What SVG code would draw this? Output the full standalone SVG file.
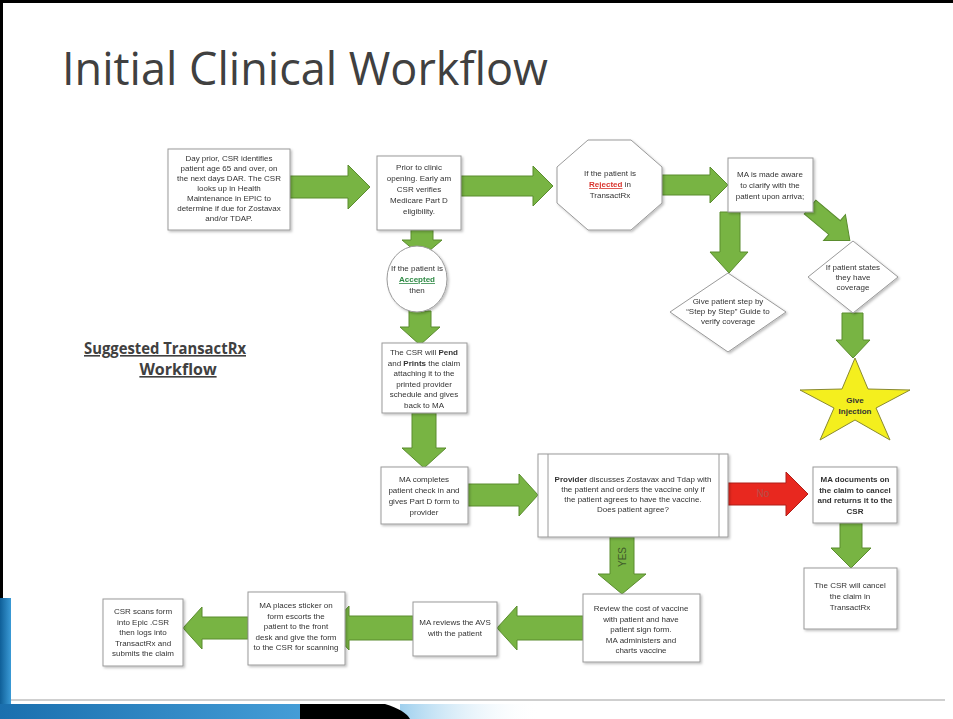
<svg xmlns="http://www.w3.org/2000/svg" width="953" height="719" viewBox="0 0 953 719">
<style>
.bx{fill:#fff;stroke:#9a9a9a;stroke-width:1}
.t{font-family:"Liberation Sans",Arial,sans-serif;font-size:8px;fill:#333;text-anchor:middle}
.b{font-weight:bold}
.ga{fill:#78b443;stroke:#5a8c2e;stroke-width:1}
.ra{fill:#e8281f;stroke:#b01e18;stroke-width:1}
</style>
<defs>
<filter id="sh" x="-10%" y="-10%" width="130%" height="130%">
<feDropShadow dx="1.5" dy="1.5" stdDeviation="1" flood-color="#000" flood-opacity="0.25"/>
</filter>
<linearGradient id="blu" x1="0" y1="0" x2="1" y2="0">
<stop offset="0" stop-color="#1a6fae"/><stop offset="1" stop-color="#4aa3dc"/>
</linearGradient>
<linearGradient id="lblu" x1="0" y1="0" x2="1" y2="0">
<stop offset="0" stop-color="#9fd0ee"/><stop offset="1" stop-color="#ffffff" stop-opacity="0"/>
</linearGradient>
<linearGradient id="vblu" x1="0" y1="0" x2="1" y2="0">
<stop offset="0" stop-color="#0f5f98"/><stop offset="1" stop-color="#3a9ad6"/>
</linearGradient>
</defs>
<rect width="953" height="719" fill="#fff"/>
<!-- slide frame -->
<rect x="0" y="0" width="953" height="3" fill="#000"/>
<rect x="0" y="0" width="3" height="600" fill="#000"/>
<rect x="0" y="598" width="11" height="121" fill="url(#vblu)"/>
<line x1="11" y1="700" x2="945" y2="700" stroke="#cfcfcf" stroke-width="2"/>
<rect x="0" y="704" width="340" height="15" fill="url(#blu)"/>
<path d="M400,704 L540,704 L540,719 L400,719 Z" fill="url(#lblu)"/>
<path d="M300,704 L385,704 Q405,710 410,719 L300,719 Z" fill="#000"/>

<text x="62" y="85" font-family="Open Sans, Liberation Sans, sans-serif" font-size="46" fill="#404040" textLength="486" lengthAdjust="spacingAndGlyphs">Initial Clinical Workflow</text>

<g id="subtitle" font-family="Open Sans, Liberation Sans, sans-serif" font-size="16" font-weight="bold" fill="#404040" text-anchor="middle" text-decoration="underline">
<text x="165" y="354" textLength="162" lengthAdjust="spacingAndGlyphs">Suggested TransactRx</text>
<text x="178" y="375">Workflow</text>
</g>

<g id="connectors">
<polygon class="ga" points="290,176 348,176 348,165 370,187 348,209 348,198 290,198"/>
<polygon class="ga" points="461,176 533,176 533,166 553,186 533,206 533,196 461,196"/>
<polygon class="ga" points="662,175 710,175 710,167 728,185 710,203 710,195 662,195"/>
<polygon class="ga" points="720,212 740,212 740,252 748,252 729,273 710,252 720,252"/>
<g transform="translate(810,207) rotate(40)">
<polygon class="ga" points="0,-9 32,-9 32,-17 52,0 32,17 32,9 0,9"/>
</g>
<polygon class="ga" points="842,313 863,313 863,340 870,340 853,358 836,340 842,340"/>
<polygon class="ga" points="411,230 433,230 433,240 442,240 422,257 402,240 411,240"/>
<polygon class="ga" points="409,311 431,311 431,327 440,327 420,345 400,327 409,327"/>
<polygon class="ga" points="412,413 436,413 436,448 446,448 424,468 402,448 412,448"/>
<polygon class="ga" points="468,484 519,484 519,474 538,495 519,516 519,506 468,506"/>
<polygon class="ra" points="728,483 786,483 786,472 808,494 786,516 786,505 728,505"/>
<polygon class="ga" points="840,523 862,523 862,548 871,548 851,568 831,548 840,548"/>
<polygon class="ga" points="610,537 634,537 634,574 646,574 622,594 598,574 610,574"/>
<polygon class="ga" points="583,616 517,616 517,606 497,628 517,650 517,640 583,640"/>
<polygon class="ga" points="413,616 349,616 349,606 329,628 349,650 349,640 413,640"/>
<polygon class="ga" points="248,617 202,617 202,607 183,628 202,649 202,639 248,639"/>
<text x="763" y="497" font-family="Liberation Sans, Arial, sans-serif" font-size="10" fill="#b4504a" text-anchor="middle">No</text>
<text transform="translate(626,557) rotate(-90)" font-family="Liberation Sans, Arial, sans-serif" font-size="10" fill="#3f5a2a" text-anchor="middle">YES</text>
</g>

<g id="n1" filter="url(#sh)">
<rect class="bx" x="168" y="149" width="122" height="81"/>
<text class="t"><tspan x="229" y="161">Day prior, CSR identifies</tspan><tspan x="229" y="171">patient age 65 and over, on</tspan><tspan x="229" y="181">the next days DAR. The CSR</tspan><tspan x="229" y="191">looks up in Health</tspan><tspan x="229" y="201">Maintenance in EPIC to</tspan><tspan x="229" y="211">determine if due for Zostavax</tspan><tspan x="229" y="221">and/or TDAP.</tspan></text>
</g>
<g id="n2" filter="url(#sh)">
<rect class="bx" x="377" y="156" width="84" height="74"/>
<text class="t"><tspan x="419" y="170">Prior to clinic</tspan><tspan x="419" y="181">opening. Early am</tspan><tspan x="419" y="192">CSR verifies</tspan><tspan x="419" y="203">Medicare Part D</tspan><tspan x="419" y="214">eligibility.</tspan></text>
</g>
<g id="n3" filter="url(#sh)">
<polygon class="bx" points="588,140 631,140 662,167 662,203 631,230 588,230 557,203 557,167"/>
<text class="t"><tspan x="610" y="176">If the patient is</tspan><tspan x="610" y="187"><tspan class="b" fill="#d9342e" text-decoration="underline">Rejected</tspan> in</tspan><tspan x="610" y="198">TransactRx</tspan></text>
</g>
<g id="n4" filter="url(#sh)">
<rect class="bx" x="728" y="158" width="85" height="54"/>
<text class="t"><tspan x="770" y="177">MA is made aware</tspan><tspan x="770" y="188">to clarify with the</tspan><tspan x="770" y="199">patient upon arriva;</tspan></text>
</g>
<g id="n5" filter="url(#sh)">
<polygon class="bx" points="728,273 786,312 728,352 670,312"/>
<text class="t" font-size="7.5"><tspan x="728" y="304">Give patient step by</tspan><tspan x="728" y="314">“Step by Step” Guide to</tspan><tspan x="728" y="324">verify coverage</tspan></text>
</g>
<g id="n6" filter="url(#sh)">
<polygon class="bx" points="853,241 898,277 853,313 808,277"/>
<text class="t" font-size="7.5"><tspan x="853" y="270">If patient states</tspan><tspan x="853" y="280">they have</tspan><tspan x="853" y="290">coverage</tspan></text>
</g>
<g id="n7">
<polygon points="855,358 868,389 910,390 876,408 890,440 855,420 820,440 834,408 800,390 842,389" fill="#f4ef1e" stroke="#8a8a30" stroke-width="1"/>
<text class="t b" font-size="9" fill="#5a5a3a"><tspan x="855" y="403">Give</tspan><tspan x="855" y="414">Injection</tspan></text>
</g>
<g id="n8" filter="url(#sh)">
<ellipse class="bx" cx="417" cy="279" rx="30" ry="33"/>
<text class="t"><tspan x="417" y="271">If the patient is</tspan><tspan x="417" y="282" class="b" fill="#2f8a45" text-decoration="underline">Accepted</tspan><tspan x="417" y="293">then</tspan></text>
</g>
<g id="n9" filter="url(#sh)">
<rect class="bx" x="382" y="343" width="85" height="70"/>
<text class="t"><tspan x="424" y="355">The CSR will <tspan class="b">Pend</tspan></tspan><tspan x="424" y="365.5">and <tspan class="b">Prints</tspan> the claim</tspan><tspan x="424" y="376">attaching it to the</tspan><tspan x="424" y="386.5">printed provider</tspan><tspan x="424" y="397">schedule and gives</tspan><tspan x="424" y="407.5">back to MA</tspan></text>
</g>
<g id="n10" filter="url(#sh)">
<rect class="bx" x="381" y="467" width="87" height="57"/>
<text class="t"><tspan x="424" y="482">MA completes</tspan><tspan x="424" y="493">patient check in and</tspan><tspan x="424" y="504">gives Part D form to</tspan><tspan x="424" y="515">provider</tspan></text>
</g>
<g id="n11" filter="url(#sh)">
<rect class="bx" x="538" y="454" width="190" height="83"/>
<line x1="548" y1="454" x2="548" y2="537" stroke="#9a9a9a"/>
<line x1="719" y1="454" x2="719" y2="537" stroke="#9a9a9a"/>
<text class="t"><tspan x="633" y="482"><tspan class="b">Provider</tspan> discusses Zostavax and Tdap with</tspan><tspan x="633" y="492">the patient and orders the vaccine only if</tspan><tspan x="633" y="502">the patient agrees to have the vaccine.</tspan><tspan x="633" y="512">Does patient agree?</tspan></text>
</g>
<g id="n12" filter="url(#sh)">
<rect class="bx" x="813" y="467" width="84" height="56"/>
<text class="t b"><tspan x="855" y="482">MA documents on</tspan><tspan x="855" y="492.5">the claim to cancel</tspan><tspan x="855" y="503">and returns it to the</tspan><tspan x="855" y="513.5">CSR</tspan></text>
</g>
<g id="n13" filter="url(#sh)">
<rect class="bx" x="804" y="568" width="93" height="61"/>
<text class="t"><tspan x="850" y="588">The CSR will cancel</tspan><tspan x="850" y="599">the claim in</tspan><tspan x="850" y="610">TransactRx</tspan></text>
</g>
<g id="n14" filter="url(#sh)">
<rect class="bx" x="583" y="594" width="117" height="68"/>
<text class="t"><tspan x="641" y="611">Review the cost of vaccine</tspan><tspan x="641" y="621.5">with patient and have</tspan><tspan x="641" y="632">patient sign form.</tspan><tspan x="641" y="642.5">MA administers and</tspan><tspan x="641" y="653">charts vaccine</tspan></text>
</g>
<g id="n15" filter="url(#sh)">
<rect class="bx" x="413" y="602" width="84" height="54"/>
<text class="t"><tspan x="455" y="625">MA reviews  the AVS</tspan><tspan x="455" y="636">with the patient</tspan></text>
</g>
<g id="n16" filter="url(#sh)">
<rect class="bx" x="248" y="592" width="97" height="73"/>
<text class="t"><tspan x="296" y="608">MA places sticker on</tspan><tspan x="296" y="618.5">form escorts the</tspan><tspan x="296" y="629">patient to the front</tspan><tspan x="296" y="639.5">desk and give the form</tspan><tspan x="296" y="650">to the CSR for scanning</tspan></text>
</g>
<g id="n17" filter="url(#sh)">
<rect class="bx" x="103" y="599" width="80" height="67"/>
<text class="t"><tspan x="143" y="614">CSR scans form</tspan><tspan x="143" y="624.5">into Epic .CSR</tspan><tspan x="143" y="635">then logs into</tspan><tspan x="143" y="645.5">TransactRx and</tspan><tspan x="143" y="656">submits the claim</tspan></text>
</g>
</svg>
